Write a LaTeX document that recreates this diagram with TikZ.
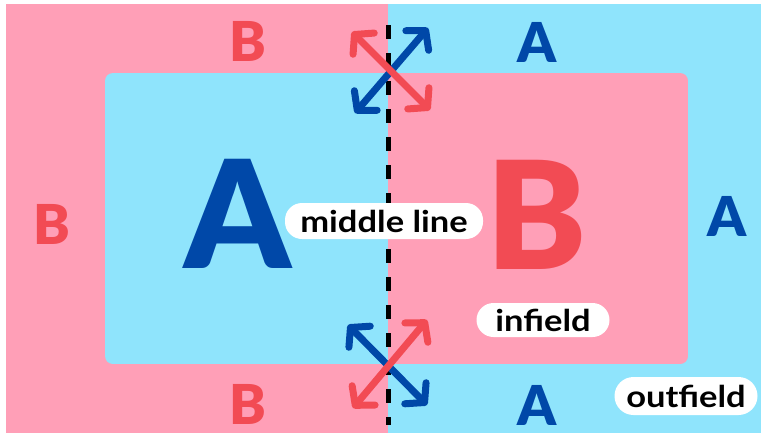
\documentclass[tikz,border=0pt]{standalone}
\usepackage{fontspec}
\setmainfont{Lato}
\newfontfamily\heavy{Lato Black}
\usetikzlibrary{arrows.meta}
\definecolor{pinkbg}{HTML}{FF9FB7}
\definecolor{bluebg}{HTML}{8FE4FC}
\definecolor{darkblue}{HTML}{0048A8}
\definecolor{redl}{HTML}{F24B54}
\newcommand\pilltext[1]{\scalebox{1.15}[1]{#1}}
\tikzset{
  small/.style={inner sep=0, font=\heavy\fontsize{55}{55}\selectfont},
  big/.style={inner sep=0, font=\heavy\fontsize{150}{150}\selectfont},
  pill/.style={fill=white, rounded corners=17, inner sep=0, font=\bfseries\fontsize{30}{30}\selectfont, text=black},
  dbl/.style={line width=7, line cap=round, {Straight Barb[length=13,width=30,round,line width=7]}-{Straight Barb[length=13,width=30,round,line width=7]}},
  midline/.style={line width=5, dash pattern=on 14 off 14}
}
\begin{document}
\begin{tikzpicture}[x=1pt,y=-1pt]
\useasboundingbox (0,0) rectangle (761,434);
\fill[white] (0,0) rectangle (761,434);
\fill[pinkbg] (6,4) rectangle (388,433);
\fill[bluebg] (388,4) rectangle (761,433);
\begin{scope}
\clip[rounded corners=8] (105,73) rectangle (688,364);
\fill[bluebg] (105,73) rectangle (388,364);
\fill[pinkbg] (388,73) rectangle (688,364);
\end{scope}
% middle line
\coordinate (mt) at (388,25);
\coordinate (mb) at (388,425);
\draw[midline] (mt) -- (mb);
% letters
\node[small, text=redl] (bt) at (248,41) {B};
\node[small, text=redl] (bl) at (52,224) {B};
\node[small, text=redl] (bb) at (248,404) {B};
\node[small, text=darkblue] (at) at (537,42) {A};
\node[small, text=darkblue] (ar) at (727,216) {A};
\node[small, text=darkblue] (ab) at (537,405) {A};
\node[big, text=darkblue] (bigA) at (238,214) {A};
\node[big, text=redl] (bigB) at (537,215) {B};
% labels
\node[pill, minimum width=198, minimum height=36] (ml) at (384,221) {\pilltext{middle line}};
\node[pill, minimum width=133, minimum height=34] (inf) at (543,320) {\pilltext{infield}};
\node[pill, minimum width=143, minimum height=38, rounded corners=19] (outf) at (686,396) {\pilltext{outfield}};
% arrows
\coordinate (t1) at (352,32);
\coordinate (t2) at (430,110);
\coordinate (t3) at (428,28);
\coordinate (t4) at (355,113);
\coordinate (b1) at (348,325);
\coordinate (b2) at (427,405);
\coordinate (b3) at (427,320);
\coordinate (b4) at (353,408);
\draw[dbl, darkblue] (t3) -- (t4);
\draw[dbl, redl] (t1) -- (t2);
\draw[dbl, darkblue] (b1) -- (b2);
\draw[dbl, redl] (b3) -- (b4);
\end{tikzpicture}
\end{document}
